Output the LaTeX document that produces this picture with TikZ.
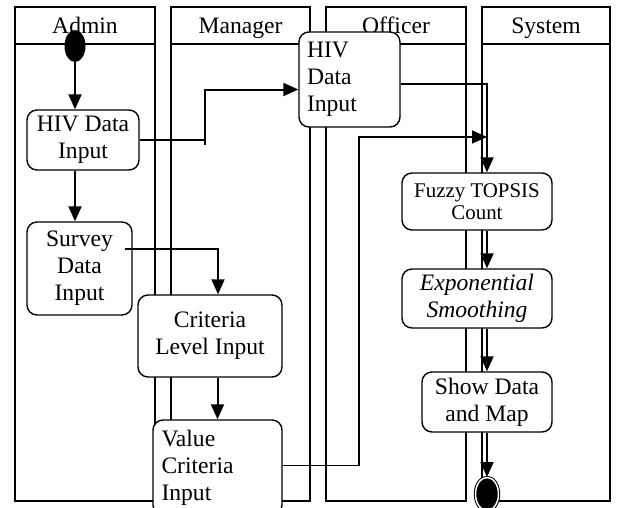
\documentclass[tikz,border=0pt]{standalone}
\usepackage{fontspec}
\setmainfont{Liberation Serif}
\usetikzlibrary{arrows.meta,shapes.geometric,positioning}
\tikzset{
	lane/.style={draw, line width=1.8pt},
	lanehead/.style={font=\fontsize{23.6}{27}\selectfont, anchor=base},
	activity/.style={draw, fill=white, rounded corners=10pt, line width=1.4pt,
			inner sep=2pt, font=\fontsize{23.6}{27}\selectfont, align=center},
	flow/.style={line width=2pt, -{Triangle[length=15pt,width=13pt]}},
	thinflow/.style={line width=1.4pt, -{Triangle[length=15pt,width=13pt]}},
	link/.style={line width=1.4pt}
}
\begin{document}
\begin{tikzpicture}[x=1pt,y=-1pt]
		\useasboundingbox (0,0) rectangle (623,507);
		\draw[lane] (15,7) rectangle (155,501) (15,44) -- (155,44);
		\draw[lane] (171,7) rectangle (310,501) (171,44) -- (310,44);
		\draw[lane] (326,7) rectangle (466,501) (326,44) -- (466,44);
		\draw[lane] (482,7) rectangle (610,501) (482,44) -- (610,44);
		\node[lanehead] (admin) at (85,33) {Admin};
		\node[lanehead] (manager) at (240.5,33) {Manager};
		\node[lanehead] (officer) at (396,33) {Officer};
		\node[lanehead] (system) at (546,33) {System};

		\node[ellipse, fill=black, minimum width=21pt, minimum height=32pt, inner sep=0pt] (start) at (75,46) {};
		\node[activity, minimum width=112pt, minimum height=60pt] (hivA) at (83,140) {HIV Data\\Input};
		\node[activity, minimum width=105pt, minimum height=93pt] (survey) at (79.5,268.5) {Survey\\Data\\Input};
		\node[activity, minimum width=101pt, minimum height=95pt, text width=85pt, align=left] (hivO) at (349.5,79.5) {HIV\\Data\\Input};
		\node[activity, minimum width=144pt, minimum height=82pt] (criteria) at (210,336) {Criteria\\Level Input};
		\node[activity, minimum width=129pt, minimum height=95pt, text width=112pt, align=left] (value) at (217.5,467.5) {Value\\Criteria\\Input};
		\node[activity, minimum width=150pt, minimum height=57pt, font=\fontsize{20.9}{22}\selectfont] (fuzzy) at (477,201.5) {Fuzzy TOPSIS\\Count};
		\node[activity, minimum width=150pt, minimum height=59pt, font=\fontsize{23.6}{27}\selectfont\itshape] (expo) at (477,298.5) {Exponential\\Smoothing};
		\node[activity, minimum width=130pt, minimum height=60pt] (show) at (487,402) {Show Data\\and Map};
		\node[ellipse, fill=black, draw=black, double=white, double distance=1.5pt, line width=1pt,
			minimum width=23pt, minimum height=33pt, inner sep=0pt] (stop) at (487,494) {};

		\coordinate (hivbend) at (205,140);
		\coordinate (vbend) at (359,137);
		\coordinate (merge) at (487,137);

		\draw[flow] (start) -- (start |- hivA.north);
		\draw[flow] (hivA.south -| start) -- (survey.north -| start);
		\draw[link] (hivA.east) -- (hivbend);
		\draw[flow] ([yshift=-5pt]hivbend) |- ([yshift=-10pt]hivO.west);
		\draw[flow] ([xshift=-8pt,yshift=20pt]survey.east) -| ([xshift=8pt]criteria.north);
		\draw[flow] (criteria.south -| value.north) -- (value.north);
		\draw[thinflow] ([yshift=2pt]value.east) -| (vbend) -- (merge);
		\draw[flow] ([yshift=-4pt]hivO.east) -| (fuzzy.north -| show);
		\draw[flow] (fuzzy.south -| show) -- (expo.north -| show);
		\draw[flow] (expo.south -| show) -- (show.north);
		\draw[flow] (show) -- (stop);
	\end{tikzpicture}
\end{document}
